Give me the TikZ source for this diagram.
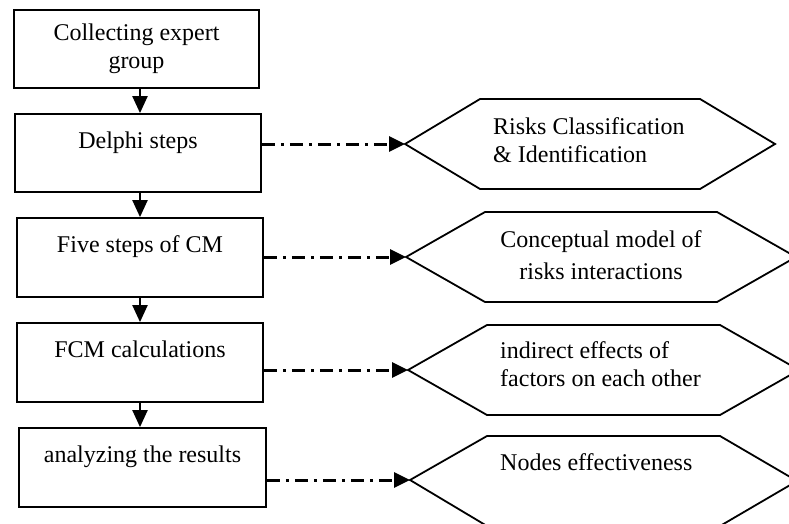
\documentclass[tikz,border=0pt]{standalone}
\usepackage{fontspec}
\setmainfont{Liberation Serif}
\usetikzlibrary{arrows.meta}
\begin{document}
\begin{tikzpicture}[x=1pt,y=-1pt,
  txt/.style={font=\fontsize{24}{28}\selectfont},
  box/.style={draw, txt, line width=1.8pt, inner sep=0pt},
  hexline/.style={line width=1.8pt, line join=miter},
  lbl/.style={txt, inner sep=0pt, align=left},
  flow/.style={line width=2.2pt, -{Triangle[length=17pt,width=15pt]}},
  link/.style={line width=3pt, dash pattern=on 13pt off 6pt on 3pt off 6pt, -{Triangle[length=16pt,width=15pt]}},
]
\useasboundingbox (0,0) rectangle (789,524);
\clip (0,0) rectangle (789,524);
\coordinate (axis) at (140,0);

% left column boxes
\node[box, minimum width=245pt, minimum height=78pt, align=center] (b1) at (136.5,49) {Collecting expert\\group};
\node[box, minimum width=246pt, text height=34pt, text depth=44pt] (b2) at (138,153) {Delphi steps};
\node[box, minimum width=246pt, text height=34pt, text depth=45pt] (b3) at (140,257.5) {Five steps of CM};
\node[box, minimum width=246pt, text height=34pt, text depth=45pt] (b4) at (140,362.5) {FCM calculations};
\node[box, minimum width=247pt, text height=34pt, text depth=45pt] (b5) at (142.5,467.5) {analyzing the results};

% vertical flow arrows
\draw[flow] (b1.south -| axis) -- (b2.north -| axis);
\draw[flow] (b2.south -| axis) -- (b3.north -| axis);
\draw[flow] (b3.south -| axis) -- (b4.north -| axis);
\draw[flow] (b4.south -| axis) -- (b5.north -| axis);

% hexagons
\coordinate (h1) at (405,144);
\draw[hexline] (h1) -- (480,99) -- (700,99) -- (775,144) -- (700,189) -- (480,189) -- cycle;
\node[lbl, anchor=west] (t1) at (493,140.5) {Risks Classification\\\& Identification};

\coordinate (h2) at (406,257);
\draw[hexline] (h2) -- (485,212) -- (717,212) -- (796,257) -- (717,302) -- (485,302) -- cycle;
\node[txt, inner sep=0pt, align=center] (t2) at (601,255.5) {Conceptual model of\\[4pt]risks interactions};

\coordinate (h3) at (408,370);
\draw[hexline] (h3) -- (487,325) -- (720,325) -- (799,370) -- (720,415) -- (487,415) -- cycle;
\node[lbl, anchor=west] (t3) at (500,364.5) {indirect effects of\\factors on each other};

\coordinate (h4) at (410,480);
\draw[hexline] (h4) -- (487,436) -- (720,436) -- (797,481) -- (720,526) -- (487,526) -- cycle;
\node[lbl, anchor=base west] (t4) at (500,470) {Nodes effectiveness};

% dash-dot links
\draw[link] (b2.east |- h1) -- (h1);
\draw[link] (b3.east |- h2) -- (h2);
\draw[link] (b4.east |- h3) -- (h3);
\draw[link] (b5.east |- h4) -- (h4);
\end{tikzpicture}
\end{document}
